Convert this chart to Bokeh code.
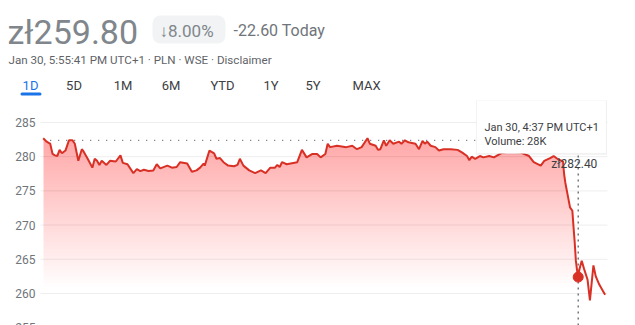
import numpy as np
from bokeh.plotting import figure
from bokeh.layouts import column
from bokeh.models import Range1d, BoxAnnotation, Label
from bokeh.core.properties import value
from bokeh.embed import file_html
from bokeh.resources import INLINE

# ---------------- data ----------------
times = [
    "09:00", "09:03", "09:05", "09:06", "09:08", "09:10", "09:12", "09:14", "09:16", "09:19",
    "09:22", "09:25", "09:27", "09:30", "09:33", "09:34", "09:38", "09:42", "09:44", "09:46",
    "09:48", "09:50", "09:54", "09:57", "10:02", "10:06", "10:08", "10:12", "10:17", "10:20",
    "10:23", "10:26", "10:30", "10:34", "10:37", "10:40", "10:46", "10:50", "10:54", "10:57",
    "11:03", "11:07", "11:11", "11:14", "11:17", "11:18", "11:22", "11:26", "11:28", "11:31",
    "11:34", "11:38", "11:43", "11:46", "11:48", "11:51", "11:56", "12:01", "12:06", "12:10",
    "12:14", "12:18", "12:20", "12:22", "12:24", "12:28", "12:37", "12:41", "12:45", "12:50",
    "12:54", "12:57", "13:01", "13:03", "13:05", "13:11", "13:19", "13:24", "13:28", "13:32",
    "13:37", "13:39", "13:44", "13:46", "13:48", "13:51", "13:53", "13:56", "13:59", "14:04",
    "14:06", "14:09", "14:12", "14:18", "14:21", "14:24", "14:26", "14:28", "14:31", "14:35",
    "14:38", "14:42", "14:48", "14:54", "14:58", "15:02", "15:04", "15:06", "15:09", "15:13",
    "15:16", "15:21", "15:25", "15:31", "15:39", "15:48", "15:55", "15:59", "16:05", "16:08",
    "16:13", "16:16", "16:20", "16:24", "16:25", "16:26", "16:29", "16:30", "16:32", "16:33",
    "16:34", "16:35", "16:36", "16:37", "16:38", "16:40", "16:42", "16:45", "16:47", "16:50",
    "16:52", "16:55", "16:58", "17:00",
]
prices = [
    282.7, 282.2, 282.0, 281.9, 280.4, 280.2, 280.1, 281.0, 280.5, 280.9,
    282.4, 282.4, 281.9, 279.4, 281.1, 280.9, 279.7, 278.4, 279.7, 279.4,
    278.8, 279.4, 278.8, 279.4, 279.3, 280.2, 279.1, 278.9, 277.6, 278.2,
    277.9, 278.1, 277.9, 278.0, 278.9, 278.3, 278.7, 278.4, 278.5, 279.2,
    279.0, 277.8, 278.0, 278.4, 279.0, 278.7, 280.9, 280.5, 279.7, 279.8,
    279.2, 278.7, 278.6, 278.8, 279.7, 278.7, 278.0, 277.6, 278.0, 277.6,
    278.4, 278.4, 278.8, 278.5, 279.2, 278.9, 279.2, 281.0, 279.9, 280.4,
    280.4, 279.9, 280.4, 281.9, 281.4, 281.6, 281.4, 281.6, 281.1, 281.4,
    282.7, 281.9, 281.6, 281.0, 281.1, 282.4, 281.6, 282.4, 281.9, 282.2,
    281.9, 282.4, 282.1, 281.9, 281.1, 282.3, 281.9, 282.2, 281.6, 281.4,
    280.9, 281.1, 281.1, 281.0, 280.6, 280.1, 279.5, 280.0, 279.7, 280.1,
    279.9, 280.1, 279.9, 280.5, 280.8, 280.6, 280.1, 279.2, 278.7, 279.4,
    279.8, 280.1, 279.6, 279.3, 277.4, 276.2, 273.5, 272.6, 272.1, 269.7,
    267.5, 264.8, 263.4, 262.4, 263.5, 264.8, 263.6, 262.0, 259.0, 264.1,
    262.5, 261.3, 260.4, 259.8,
]
prev_close = 282.40
prev_close_label = "zł282.40"
hover_time = "16:37"
hover_price = 262.4
tooltip_lines = ["Jan 30, 4:37 PM UTC+1", "Volume: 28K"]
y_ticks = [255, 260, 265, 270, 275, 280, 285]

last_price = "zł259.80"
change_pct = "↓8.00%"
change_abs = "-22.60 Today"
subtitle = "Jan 30, 5:55:41 PM UTC+1 · PLN · WSE · Disclaimer"
tabs = ["1D", "5D", "1M", "6M", "YTD", "1Y", "5Y", "MAX"]
active_tab = "1D"


def minutes(s):
    h, m = map(int, s.split(":"))
    return h * 60 + m - 9 * 60


t = np.array([minutes(s) for s in times], dtype=float)
y = np.array(prices, dtype=float)
ht = minutes(hover_time)

RED = "#d93025"
FONT = value("Roboto")

# ---------------- header ----------------
h = figure(width=635, height=100, x_range=Range1d(0, 635), y_range=Range1d(100, 0),
           output_backend="svg", toolbar_location=None, min_border=0)
h.axis.visible = False
h.grid.visible = False
h.outline_line_color = None

h.add_layout(BoxAnnotation(left=152, right=225, top=15, bottom=43, fill_color="#f1f3f4",
                           fill_alpha=1, line_color=None, border_radius=8, level="underlay"))
h.add_layout(BoxAnnotation(left=20, right=41, top=92, bottom=95, fill_color="#1a73e8",
                           fill_alpha=1, line_color=None, border_radius=2, level="underlay"))

h.text(x=[7], y=[31], text=[last_price], text_font=FONT, text_font_size="34px",
       text_color="#80868b", text_baseline="middle", text_align="left")
h.text(x=[159], y=[30], text=[change_pct], text_font=FONT, text_font_size="17px",
       text_color="#80868b", text_baseline="middle", text_align="left")
h.text(x=[233], y=[30], text=[change_abs], text_font=FONT, text_font_size="16px",
       text_color="#70757a", text_baseline="middle", text_align="left")
h.text(x=[8], y=[59], text=[subtitle], text_font=FONT, text_font_size="11.6px",
       text_color="#5f6368", text_baseline="middle", text_align="left")

tab_x = [30, 73.5, 122.5, 170.5, 222, 270.5, 312.5, 366]
tab_colors = ["#1a73e8" if s == active_tab else "#3c4043" for s in tabs]
h.text(x=tab_x, y=[85] * len(tabs), text=tabs, text_font=FONT, text_font_size="13px",
       text_color=tab_colors, text_baseline="middle", text_align="center")

# ---------------- chart ----------------
px_per_min = 1.1707   # horizontal scale of the time axis
x0_px = 42.7          # pixel where 09:00 sits
XL = (0 - x0_px) / px_per_min
XR = (635 - x0_px) / px_per_min
GRID_L = (40 - x0_px) / px_per_min
GRID_R = (607 - x0_px) / px_per_min
LABEL_X = (35 - x0_px) / px_per_min

p = figure(width=635, height=225, x_range=Range1d(XL, XR),
           y_range=Range1d(255.32, 288.22), output_backend="svg", toolbar_location=None,
           min_border=0)
p.outline_line_color = None
p.axis.visible = False
p.grid.visible = False

# horizontal grid lines and y tick labels at the tick values
p.segment(x0=[GRID_L] * len(y_ticks), x1=[GRID_R] * len(y_ticks), y0=y_ticks, y1=y_ticks,
          line_color="#eeeeee", line_width=1)
p.text(x=[LABEL_X] * len(y_ticks), y=y_ticks, text=[str(v) for v in y_ticks],
       text_font=FONT, text_font_size="12px", text_color="#70757a",
       text_align="right", text_baseline="middle")

# gradient fill, built from thin stacked translucent layers
for lv in np.arange(261.0, 284.0, 0.5):
    p.varea(x=t, y1=np.full_like(y, lv), y2=np.maximum(y, lv),
            fill_color=RED, fill_alpha=0.009)

# previous close dotted line
p.line(x=[minutes("09:06"), minutes("16:11")], y=[prev_close, prev_close],
       line_color="#5f6368", line_width=1.3, line_dash="1 7")

# hover vertical line
p.segment(x0=[ht], y0=[255.32], x1=[ht], y1=[prev_close - 1.6],
          line_color="#5f6368", line_width=1.3, line_dash="2 4")

p.line(x=t, y=y, line_color=RED, line_width=2)
p.scatter(x=[ht], y=[hover_price], size=10, fill_color=RED, line_color=RED)

p.add_layout(Label(x=minutes("16:14"), y=prev_close, y_offset=-24, text=prev_close_label,
                   text_font="Roboto", text_font_size="12px", text_color="#3c4043",
                   text_baseline="middle", text_align="left"))

# tooltip
p.add_layout(BoxAnnotation(left=369.6, right=481.6, top=288.22, bottom=280.3,
                           fill_color="#000000", fill_alpha=0.06, line_color=None))
p.add_layout(BoxAnnotation(left=370.1, right=481.1, top=288.22, bottom=280.47,
                           fill_color="white", fill_alpha=1, line_color="#e3e3e3",
                           line_width=1))
p.add_layout(Label(x=376.9, y=284.27, text=tooltip_lines[0], text_font="Roboto",
                   text_font_size="11px", text_color="#3c4043", text_baseline="middle"))
p.add_layout(Label(x=376.9, y=282.23, text=tooltip_lines[1], text_font="Roboto",
                   text_font_size="11px", text_color="#3c4043", text_baseline="middle"))

layout = column(h, p, spacing=0)
open("out.html", "w").write(file_html(layout, INLINE))
